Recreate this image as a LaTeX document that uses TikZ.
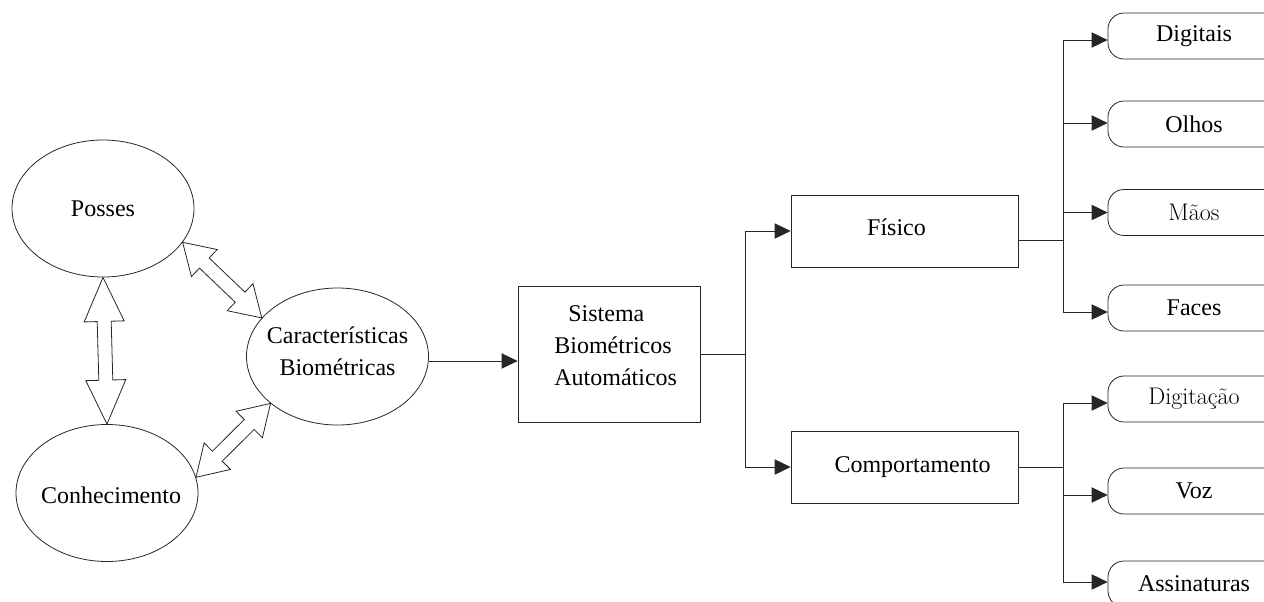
\documentclass[tikz,border=0pt]{standalone}
\usepackage{fontspec}
\usetikzlibrary{shapes.geometric,arrows.meta,calc}
\newfontfamily\tnr{Liberation Serif}

% hollow double arrow between two points: #3 head length, #4 head half width
\newcommand\hollowarrow[4]{%
  \draw[hollow] let \p1=(#1), \p2=(#2),
      \n1={atan2(\y2-\y1,\x2-\x1)}, \n2={\n1+90}, \n3={\n1-90} in
    (\p1) -- ($(\p1)+(\n1:#3)+(\n2:#4)$) -- ($(\p1)+(\n1:#3)+(\n2:5.25pt)$)
    -- ($(\p2)+(\n1:-#3)+(\n2:5.25pt)$) -- ($(\p2)+(\n1:-#3)+(\n2:#4)$) -- (\p2)
    -- ($(\p2)+(\n1:-#3)+(\n3:#4)$) -- ($(\p2)+(\n1:-#3)+(\n3:5.25pt)$)
    -- ($(\p1)+(\n1:#3)+(\n3:5.25pt)$) -- ($(\p1)+(\n1:#3)+(\n3:#4)$) -- cycle;
}

\tikzset{
  txt/.style={font=\tnr\fontsize{18}{24}\selectfont},
  line/.style={draw=black!85, line width=0.6pt},
  oval/.style={ellipse, line, inner sep=0pt, minimum width=136.5pt, minimum height=102.75pt},
  block/.style={rectangle, line, inner sep=0pt, txt},
  leaf/.style={rectangle, rounded corners=12pt, line, inner sep=0pt,
               minimum width=129pt, minimum height=34.5pt, txt},
  arr/.style={line, -{Triangle[length=12pt,width=11.5pt]}},
  hollow/.style={line, fill=white, line join=miter},
}

\begin{document}
\begin{tikzpicture}[x=0.75pt, y=-0.75pt]
\useasboundingbox (0,0) rectangle (1264,601);

% left group
\node[oval, label={[txt]center:Posses}] (posses) at (103,208.5) {};
\node[oval, label={[txt, xshift=3pt, yshift=-2pt]center:Conhecimento}] (conh) at (107,493) {};
\node[oval, label={[txt, align=center, yshift=4pt]center:Características\\Biométricas}] (car) at (337.5,356.5) {};

\hollowarrow{posses.south}{conh.north}{33pt}{15pt}
\hollowarrow{posses.-23}{car.153}{22.5pt}{14pt}
\hollowarrow{conh.10}{car.-145}{22.5pt}{14pt}

% system block
\node[block, minimum width=136.5pt, minimum height=102pt,
      label={[txt, align=left, xshift=5pt, yshift=6pt]center:\hspace*{10.5pt}Sistema\\Biométricos\\Automáticos}]
      (sis) at (609,354) {};
\draw[arr] ($(car.east)+(0,4.5)$) -- ($(car.east -| sis.west)+(0,4.5)$);

% categories
\node[block, minimum width=170.25pt, minimum height=54pt,
      label={[txt, xshift=-6pt, yshift=3pt]center:Físico}] (fis) at (904.5,231) {};
\node[block, minimum width=170.25pt, minimum height=54pt,
      label={[txt, xshift=6pt]center:Comportamento}] (comp) at (904.5,467) {};

\draw[line] (sis.east) -- ++(45,0) coordinate (j1);
\draw[arr] (j1) |- (fis.west);
\draw[arr] (j1) |- (comp.west);

% physical traits
\node[leaf] (digitais) at (1194,36) {Digitais};
\node[leaf] (olhos) at (1194,124) {Olhos};
\node[leaf] (maos) at (1194,212.5) {\rmfamily Mãos};
\node[leaf] (faces) at (1194,308) {Faces};

\draw[line] ($(fis.east)+(0,9)$) -- ++(45,0) coordinate (j2);
\draw[line] ($(j2 |- digitais.west)+(0,4)$) -- ($(j2 |- faces.west)+(0,4)$);
\foreach \n/\d in {digitais/4,olhos/-1,maos/0,faces/4}
  \draw[arr] ($(j2 |- \n.west)+(0,\d)$) -- ($(\n.west)+(0,\d)$);

% behavioural traits
\node[leaf] (digitacao) at (1194,399) {\rmfamily Digitação};
\node[leaf] (voz) at (1194,491) {Voz};
\node[leaf] (assin) at (1194,584) {Assinaturas};

\draw[line] (comp.east) -- ++(45,0) coordinate (j3);
\draw[line] ($(j3 |- digitacao.west)+(0,4)$) -- ($(j3 |- assin.west)+(0,-2)$);
\foreach \n/\d in {digitacao/4,voz/4,assin/-2}
  \draw[arr] ($(j3 |- \n.west)+(0,\d)$) -- ($(\n.west)+(0,\d)$);
\end{tikzpicture}
\end{document}
